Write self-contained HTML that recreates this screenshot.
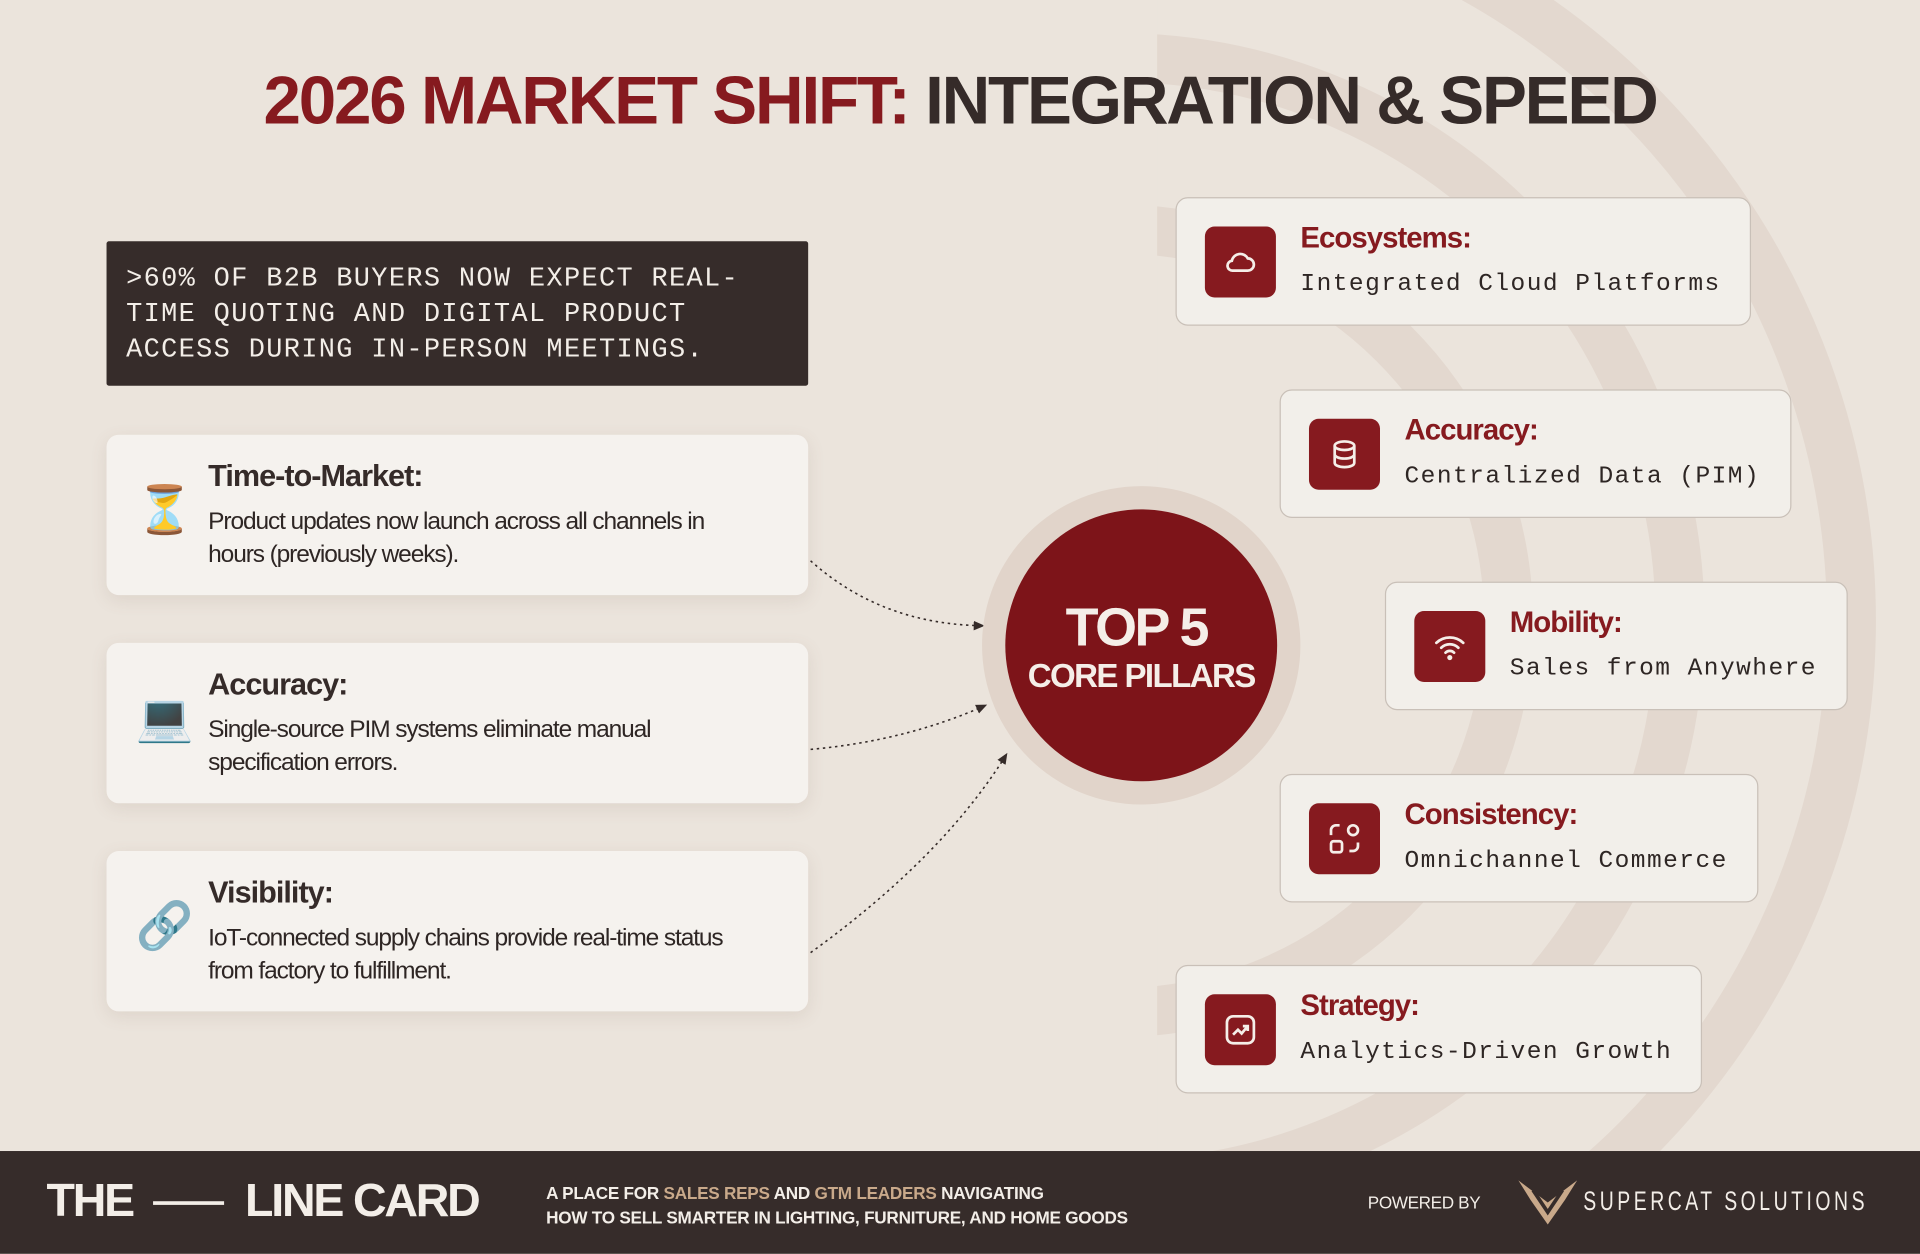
<!DOCTYPE html>
<html><head><meta charset="utf-8"><style>
html,body{margin:0;padding:0;width:1920px;height:1254px;overflow:hidden;background:#ebe4dc;}
#c{position:absolute;left:0;top:0;width:1568px;height:1024px;transform:scale(1.22449);transform-origin:0 0;background:#ebe4dc;overflow:hidden;font-family:"Liberation Sans",sans-serif;}
.abs{position:absolute;}
.ring{position:absolute;border-radius:50%;border-style:solid;border-color:#e3d8cf;}
h1{position:absolute;left:0;width:1568px;top:50px;margin:0;text-align:center;font-size:55px;font-weight:bold;letter-spacing:-1.8px;color:#352b29;}
h1 span{color:#861a1f;}
.quote{left:87px;top:197px;width:573px;height:118px;background:#362c2a;color:#f3eee8;font-family:"Liberation Mono",monospace;font-size:22px;letter-spacing:1.1px;line-height:29px;padding:16px 16px;box-sizing:border-box;border-radius:2px;}
.lc{position:absolute;left:87px;width:573px;height:131px;background:#f5f2ee;border-radius:10px;box-shadow:0 4px 14px rgba(120,100,80,.12);}
.lc .em{position:absolute;left:24px;top:40px;font-size:38px;}
.lc .t{position:absolute;left:83px;top:20px;font-size:25px;font-weight:bold;color:#352b29;letter-spacing:-0.8px;}
.lc .d{position:absolute;left:83px;top:58px;width:445px;font-size:20px;line-height:27px;color:#2e2624;letter-spacing:-0.9px;}
.rc{position:absolute;height:105px;background:#f2efea;border:1.5px solid #c9c0b8;border-radius:10px;box-sizing:border-box;}
.rc .ic{position:absolute;left:23px;top:23px;width:58px;height:58px;background:#861a1f;border-radius:8px;}
.rc .ic svg{position:absolute;left:15px;top:15px;}
.rc .t{position:absolute;left:101px;top:19px;font-size:24px;font-weight:bold;color:#861a1f;letter-spacing:-0.8px;}
.rc .d{position:absolute;left:101px;top:59px;font-family:"Liberation Mono",monospace;font-size:20px;color:#2e2624;letter-spacing:1.2px;white-space:nowrap;}
.foot{left:0;top:940px;width:1568px;height:84px;background:#362c2a;}
</style></head><body><div id="c">
<div class="ring" style="left:612px;top:207px;width:600px;height:600px;border-width:40px;margin:-40px;"></div>
<div class="ring" style="left:472px;top:67px;width:880px;height:880px;border-width:40px;margin:-40px;"></div>
<div class="ring" style="left:332px;top:-73px;width:1160px;height:1160px;border-width:40px;margin:-40px;"></div>
<div class="abs" style="left:0;top:0;width:945px;height:1024px;background:#ebe4dc;"></div>

<h1><span>2026 MARKET SHIFT:</span> INTEGRATION &amp; SPEED</h1>

<div class="abs quote">&gt;60% OF B2B BUYERS NOW EXPECT REAL-<br>TIME QUOTING AND DIGITAL PRODUCT<br>ACCESS DURING IN-PERSON MEETINGS.</div>

<div class="lc" style="top:355px"><div class="em">⏳</div><div class="t">Time-to-Market:</div><div class="d">Product updates now launch across all channels in hours (previously weeks).</div></div>
<div class="lc" style="top:525px"><div class="em">💻</div><div class="t">Accuracy:</div><div class="d">Single-source PIM systems eliminate manual specification errors.</div></div>
<div class="lc" style="top:695px"><div class="em">🔗</div><div class="t">Visibility:</div><div class="d">IoT-connected supply chains provide real-time status from factory to fulfillment.</div></div>

<svg class="abs" style="left:0;top:0" width="1568" height="1024">
<defs><marker id="a" markerWidth="8" markerHeight="8" refX="6" refY="4" orient="auto"><path d="M0,1 L7,4 L0,7z" fill="#352b29"/></marker></defs>
<g fill="none" stroke="#352b29" stroke-width="1.3" stroke-dasharray="2,3">
<path d="M662,458 Q720,510 803,511" marker-end="url(#a)"/>
<path d="M662,612 Q740,605 805,576" marker-end="url(#a)"/>
<path d="M662,778 Q770,700 822,616" marker-end="url(#a)"/>
</g>
<circle cx="932" cy="527" r="130" fill="#e1d4ca"/>
<circle cx="932" cy="527" r="111" fill="#7d1419"/>
<text x="928" y="527" text-anchor="middle" font-family="Liberation Sans" font-weight="bold" font-size="44" fill="#f5eee8" letter-spacing="-2">TOP 5</text>
<text x="932" y="561" text-anchor="middle" font-family="Liberation Sans" font-weight="bold" font-size="27" fill="#f5eee8" letter-spacing="-1.3">CORE PILLARS</text>
</svg>

<div class="rc" style="left:960px;top:161px;width:470px"><div class="ic"><svg width="28" height="28" viewBox="0 0 28 28" fill="none" stroke="#f5eee8" stroke-width="2.2"><path d="M8 21h12a5 5 0 0 0 0-10 7 7 0 0 0-13 2 4 4 0 0 0 1 8z"/></svg></div><div class="t">Ecosystems:</div><div class="d">Integrated Cloud Platforms</div></div>
<div class="rc" style="left:1045px;top:318px;width:418px"><div class="ic"><svg width="28" height="28" viewBox="0 0 28 28" fill="none" stroke="#f5eee8" stroke-width="2.2"><ellipse cx="14" cy="7" rx="8" ry="3.5"/><path d="M6 7v14c0 2 3.6 3.5 8 3.5s8-1.5 8-3.5V7M6 14c0 2 3.6 3.5 8 3.5s8-1.5 8-3.5"/></svg></div><div class="t">Accuracy:</div><div class="d">Centralized Data (PIM)</div></div>
<div class="rc" style="left:1131px;top:475px;width:378px"><div class="ic"><svg width="28" height="28" viewBox="0 0 28 28" fill="none" stroke="#f5eee8" stroke-width="2.2" stroke-linecap="round"><path d="M3 11a16 16 0 0 1 22 0M7 15a10 10 0 0 1 14 0M10.5 19a5 5 0 0 1 7 0"/><circle cx="14" cy="23" r="1" fill="#f5eee8"/></svg></div><div class="t">Mobility:</div><div class="d">Sales from Anywhere</div></div>
<div class="rc" style="left:1045px;top:632px;width:391px"><div class="ic"><svg width="28" height="28" viewBox="0 0 28 28" fill="none" stroke="#f5eee8" stroke-width="2.2"><path d="M3 11V7a4 4 0 0 1 4-4h3"/><circle cx="21" cy="7" r="4"/><rect x="3" y="16" width="9" height="9" rx="2"/><path d="M25 17v3a4 4 0 0 1-4 4h-3"/></svg></div><div class="t">Consistency:</div><div class="d">Omnichannel Commerce</div></div>
<div class="rc" style="left:960px;top:788px;width:430px"><div class="ic"><svg width="28" height="28" viewBox="0 0 28 28" fill="none" stroke="#f5eee8" stroke-width="2.2"><rect x="3" y="3" width="22" height="22" rx="5"/><path d="M8 18l4-4 3 3 5-6M16 11h4v4"/></svg></div><div class="t">Strategy:</div><div class="d">Analytics-Driven Growth</div></div>

<div class="abs foot">
<div class="abs" style="left:38px;top:20px;font-size:38px;font-weight:bold;color:#f3eee8;letter-spacing:-1.8px;white-space:nowrap;">THE <span style="display:inline-block;width:58px;height:3px;background:#f3eee8;vertical-align:middle;margin:0 8px;"></span> LINE CARD</div>
<div class="abs" style="left:446px;top:24px;font-size:14px;font-weight:bold;color:#f3eee8;line-height:20px;letter-spacing:-0.2px;white-space:nowrap;">A PLACE FOR <span style="color:#c9a98a">SALES REPS</span> AND <span style="color:#c9a98a">GTM LEADERS</span> NAVIGATING<br>HOW TO SELL SMARTER IN LIGHTING, FURNITURE, AND HOME GOODS</div>
<div class="abs" style="left:1117px;top:34px;font-size:14px;color:#f3eee8;letter-spacing:-0.3px;">POWERED BY</div>
<svg class="abs" style="left:1238px;top:22px" width="52" height="40" viewBox="0 0 52 40"><path d="M2 2 L26 20 L50 2 L40 18 L26 38 L12 18z" fill="#c9a98a"/><path d="M14 10 L26 28 L38 10" fill="none" stroke="#362c2a" stroke-width="3"/></svg>
<div class="abs" style="left:1293px;top:28px;font-size:22px;color:#f3eee8;letter-spacing:4px;font-family:'Liberation Sans',sans-serif;transform:scaleX(0.72);transform-origin:0 0;white-space:nowrap;">SUPERCAT SOLUTIONS</div>
</div>
</div></body></html>
